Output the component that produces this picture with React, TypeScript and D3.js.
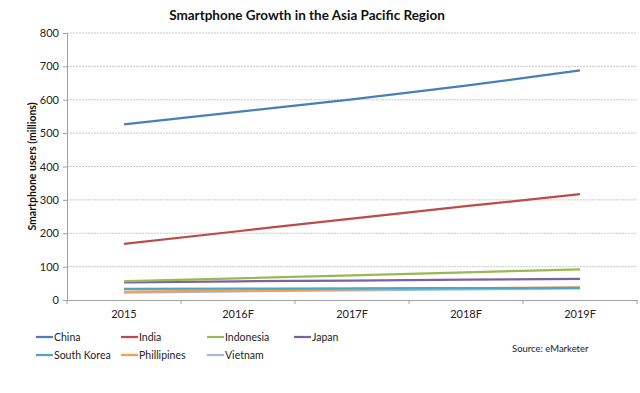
import { useRef, useEffect } from "react";
import * as d3 from "d3";

const years = ["2015", "2016F", "2017F", "2018F", "2019F"];
const seriesNames = ["China", "India", "Indonesia", "Japan", "South Korea", "Phillipines", "Vietnam"];
const seriesColors = ["#4a7ebb", "#be4b48", "#98b954", "#7d60a0", "#46aac5", "#f59d56", "#a5b8d8"];
const china = [526, 564, 601, 642, 688];
const india = [168, 206, 244, 281, 317];
const indonesia = [56, 65, 74, 83, 92];
const japan = [53, 56, 58, 61, 63];
const southKorea = [33, 34, 35, 35.5, 36];
const phillipines = [25, 28, 32, 35, 38];
const vietnam = [22, 26, 29, 32, 35];
const yTicks = [0, 100, 200, 300, 400, 500, 600, 700, 800];

const allSeries = [china, india, indonesia, japan, southKorea, phillipines, vietnam];

export default function App() {
  const svgRef = useRef<SVGSVGElement>(null);

  useEffect(() => {
    if (!svgRef.current) return;
    const width = 640;
    const height = 393;
    const margin = { top: 33, right: 3, bottom: 93, left: 67 };
    const font = "Lato, 'Open Sans', sans-serif";

    const svg = d3.select(svgRef.current);
    svg.selectAll("*").remove();
    svg.attr("width", width).attr("height", height);

    const x = d3
      .scaleBand()
      .domain(years)
      .range([margin.left, width - margin.right]);
    const y = d3
      .scaleLinear()
      .domain([0, 800])
      .range([height - margin.bottom, margin.top]);

    // gridlines
    svg
      .append("g")
      .selectAll("line")
      .data(yTicks.slice(1))
      .join("line")
      .attr("x1", margin.left)
      .attr("x2", width - margin.right)
      .attr("y1", (d) => y(d))
      .attr("y2", (d) => y(d))
      .attr("stroke", "#c8c8c8")
      .attr("stroke-width", 1)
      .attr("stroke-dasharray", "2 1");

    // axes
    const yAxis = svg
      .append("g")
      .attr("transform", `translate(${margin.left},0)`)
      .call(d3.axisLeft(y).tickValues(yTicks).tickSize(4).tickPadding(4));
    yAxis.select(".domain").attr("stroke", "#a0a0a0");
    yAxis.selectAll(".tick line").attr("stroke", "#a0a0a0");
    yAxis.selectAll("text").attr("font-family", font).attr("font-size", 11).attr("fill", "#222");

    const xAxis = svg
      .append("g")
      .attr("transform", `translate(0,${y(0)})`)
      .call(d3.axisBottom(x).tickSize(0).tickPadding(10));
    xAxis.select(".domain").attr("stroke", "#a0a0a0");
    xAxis.selectAll("text").attr("font-family", font).attr("font-size", 11).attr("fill", "#222");

    // tick marks between categories
    const bw = x.step();
    svg
      .append("g")
      .selectAll("line")
      .data(d3.range(years.length + 1))
      .join("line")
      .attr("x1", (i) => margin.left + i * bw)
      .attr("x2", (i) => margin.left + i * bw)
      .attr("y1", y(0))
      .attr("y2", y(0) + 4)
      .attr("stroke", "#a0a0a0");

    // lines
    const line = d3
      .line<number>()
      .x((_, i) => (x(years[i]) as number) + x.bandwidth() / 2)
      .y((d) => y(d))
      .curve(d3.curveMonotoneX);

    const order = [6, 5, 4, 3, 2, 1, 0];
    order.forEach((si) => {
      svg
        .append("path")
        .datum(allSeries[si])
        .attr("fill", "none")
        .attr("stroke", seriesColors[si])
        .attr("stroke-width", 2.25)
        .attr("d", line);
    });

    // title
    svg
      .append("text")
      .attr("x", 307)
      .attr("y", 20)
      .attr("text-anchor", "middle")
      .attr("font-family", font)
      .attr("font-weight", "bold")
      .attr("font-size", 13.5)
      .attr("fill", "#111")
      .text("Smartphone Growth in the Asia Pacific Region");

    // y label
    svg
      .append("text")
      .attr("transform", `translate(36,${(y(0) + y(800)) / 2}) rotate(-90)`)
      .attr("text-anchor", "middle")
      .attr("font-family", font)
      .attr("font-weight", "bold")
      .attr("font-size", 10.5)
      .attr("fill", "#111")
      .text("Smartphone users (millions)");

    // legend
    const legendX = [36, 121, 207, 294];
    const legendY = [337, 355];
    seriesNames.forEach((name, i) => {
      const lx = legendX[i % 4];
      const ly = legendY[Math.floor(i / 4)];
      svg
        .append("line")
        .attr("x1", lx)
        .attr("x2", lx + 17)
        .attr("y1", ly)
        .attr("y2", ly)
        .attr("stroke", seriesColors[i])
        .attr("stroke-width", 2.25);
      svg
        .append("text")
        .attr("x", lx + 18)
        .attr("y", ly + 4)
        .attr("font-family", font)
        .attr("font-size", 10.5)
        .attr("fill", "#222")
        .text(name);
    });

    svg
      .append("text")
      .attr("x", 512)
      .attr("y", 352)
      .attr("font-family", font)
      .attr("font-size", 9.5)
      .attr("fill", "#222")
      .text("Source: eMarketer");
  }, []);

  return (
    <div style={{ position: "absolute", left: 0, top: 0 }}>
      <svg ref={svgRef} style={{ display: "block", background: "#fff" }} />
    </div>
  );
}
